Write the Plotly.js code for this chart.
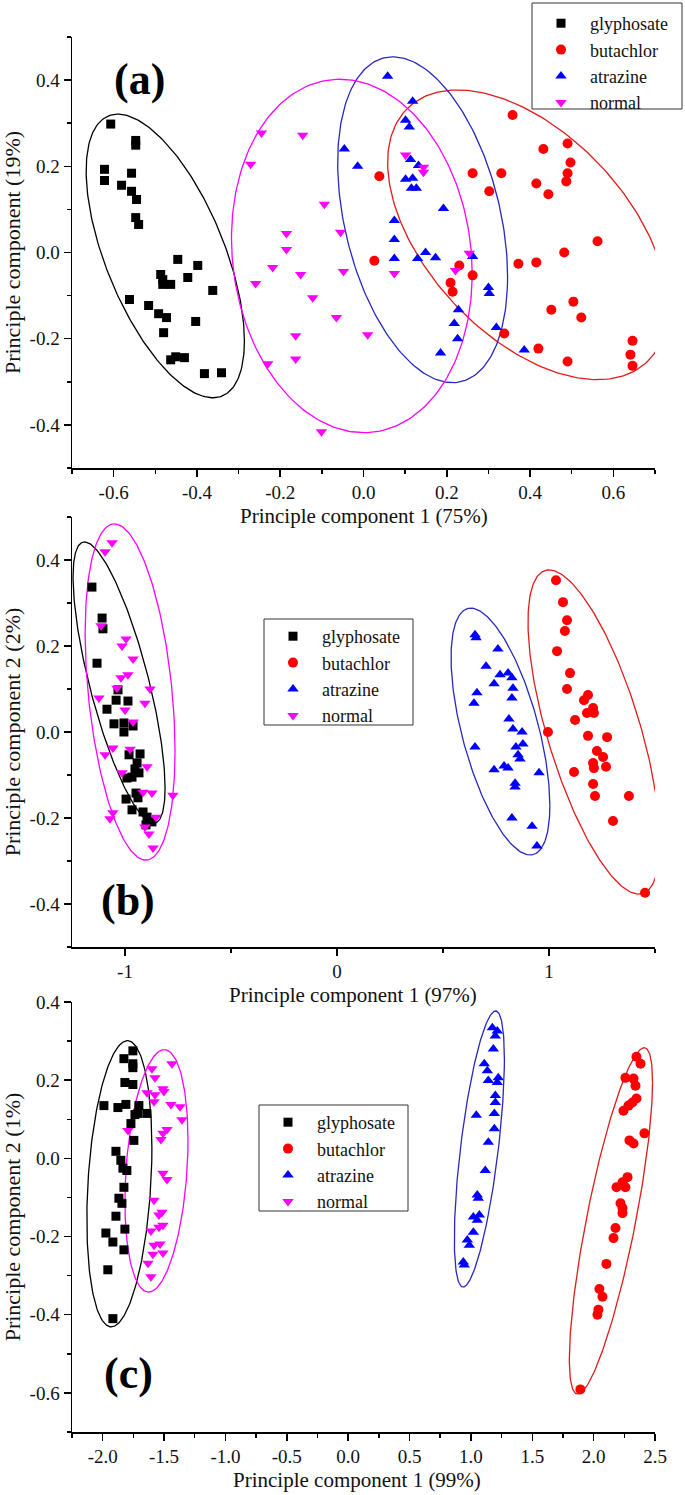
<!DOCTYPE html>
<html>
<head>
<meta charset="utf-8">
<script src="https://cdn.plot.ly/plotly-3.0.1.min.js"></script>
<style>html,body{margin:0;padding:0;background:#fff;}#plot{width:685px;height:1495px;}</style>
</head>
<body>
<div id="plot"></div>
<script>
// ---------- DATA ----------
const seriesNames = ['glyphosate', 'butachlor', 'atrazine', 'normal'];

// Panel (a)
const aGlyX = [-0.607,-0.547,-0.547,-0.622,-0.622,-0.557,-0.581,-0.557,-0.545,-0.547,-0.540,-0.446,-0.398,-0.487,-0.482,-0.482,-0.463,-0.422,-0.362,-0.562,-0.516,-0.492,-0.473,-0.403,-0.480,-0.463,-0.451,-0.430,-0.382,-0.341];
const aGlyY = [0.298,0.260,0.249,0.193,0.167,0.184,0.156,0.142,0.123,0.081,0.065,-0.016,-0.030,-0.051,-0.063,-0.074,-0.074,-0.058,-0.088,-0.109,-0.123,-0.142,-0.151,-0.160,-0.186,-0.249,-0.242,-0.244,-0.281,-0.279];
const aButX = [0.358,0.432,0.490,0.497,0.490,0.487,0.415,0.444,0.262,0.331,0.038,0.302,0.562,0.482,0.026,0.372,0.415,0.230,0.262,0.209,0.214,0.504,0.451,0.523,0.338,0.420,0.490,0.646,0.641,0.646];
const aButY = [0.319,0.240,0.253,0.209,0.184,0.165,0.160,0.135,0.184,0.184,0.177,0.142,0.026,0.000,-0.019,-0.026,-0.023,-0.030,-0.053,-0.070,-0.091,-0.114,-0.133,-0.151,-0.188,-0.223,-0.253,-0.205,-0.237,-0.263];
const aAtrX = [0.058,0.118,0.101,0.110,-0.046,-0.014,0.113,0.132,0.101,0.118,0.115,0.127,0.192,0.074,0.074,0.149,0.173,0.074,0.130,0.262,0.300,0.302,0.228,0.218,0.226,0.319,0.185,0.386];
const aAtrY = [0.409,0.351,0.307,0.291,0.240,0.200,0.216,0.202,0.170,0.172,0.149,0.149,0.102,0.074,0.030,0.000,-0.012,-0.014,-0.014,-0.009,-0.081,-0.095,-0.133,-0.165,-0.200,-0.174,-0.233,-0.226];
const aNorX = [-0.245,-0.146,-0.271,-0.094,0.101,0.144,0.144,-0.185,-0.055,-0.185,-0.218,-0.151,-0.048,-0.259,-0.122,-0.065,-0.163,-0.163,-0.230,-0.101,0.074,0.010,0.254,0.221];
const aNorY = [0.277,0.272,0.205,0.112,0.226,0.198,0.186,0.044,0.047,0.007,-0.035,-0.051,-0.044,-0.072,-0.105,-0.151,-0.193,-0.247,-0.258,-0.416,-0.049,-0.191,-0.002,-0.042];

// Panel (b)
const bGlyX = [-1.156,-1.108,-1.104,-1.132,-1.033,-0.986,-1.042,-1.085,-1.052,-1.005,-0.962,-1.005,-0.981,-0.929,-0.943,-0.953,-0.934,-0.991,-0.967,-0.948,-0.995,-0.939,-0.967,-0.915,-0.896,-0.873,-0.901];
const bGlyY = [0.337,0.265,0.240,0.160,0.098,0.072,0.074,0.053,0.019,0.021,0.014,0.000,-0.053,-0.051,-0.072,-0.086,-0.095,-0.107,-0.105,-0.142,-0.156,-0.153,-0.181,-0.186,-0.198,-0.209,-0.216];
const bButX = [1.033,1.066,1.085,1.075,1.038,1.099,1.085,1.184,1.165,1.208,1.179,1.212,1.123,0.995,1.184,1.274,1.226,1.255,1.208,1.269,1.212,1.118,1.208,1.217,1.377,1.302,1.453];
const bButY = [0.353,0.302,0.260,0.235,0.188,0.137,0.100,0.086,0.074,0.056,0.044,0.044,0.028,0.000,-0.009,-0.012,-0.044,-0.058,-0.072,-0.081,-0.084,-0.093,-0.121,-0.149,-0.149,-0.207,-0.374];
const bAtrX = [0.651,0.656,0.759,0.703,0.769,0.807,0.825,0.741,0.830,0.660,0.646,0.825,0.811,0.830,0.873,0.844,0.877,0.651,0.854,0.863,0.741,0.788,0.807,0.953,0.840,0.840,0.825,0.920,0.943];
const bAtrY = [0.226,0.219,0.193,0.153,0.133,0.137,0.126,0.112,0.102,0.091,0.067,0.079,0.030,0.007,0.000,-0.035,-0.028,-0.035,-0.053,-0.063,-0.088,-0.079,-0.084,-0.095,-0.119,-0.128,-0.200,-0.219,-0.265];
const bNorX = [-1.061,-1.094,-1.113,-0.995,-1.014,-0.962,-0.986,-1.019,-1.038,-0.882,-1.123,-0.906,-1.000,-0.962,-1.057,-1.094,-0.976,-1.014,-0.896,-0.915,-0.873,-0.774,-1.057,-1.071,-0.854,-0.906,-0.887,-0.868];
const bNorY = [0.440,0.419,0.247,0.216,0.200,0.170,0.133,0.126,0.102,0.100,0.079,0.067,0.051,0.023,-0.037,-0.053,-0.040,-0.095,-0.081,-0.140,-0.142,-0.147,-0.188,-0.202,-0.198,-0.221,-0.237,-0.270];

// Panel (c)
const cGlyX = [-1.754,-1.827,-1.754,-1.754,-1.819,-1.754,-1.990,-1.876,-1.811,-1.705,-1.713,-1.640,-1.737,-1.770,-1.746,-1.892,-1.852,-1.835,-1.803,-1.827,-1.868,-1.843,-1.892,-1.819,-1.974,-1.917,-1.827,-1.958,-1.917];
const cGlyY = [0.275,0.255,0.242,0.232,0.194,0.189,0.135,0.130,0.138,0.135,0.115,0.115,0.112,0.089,0.046,0.018,-0.005,-0.025,-0.031,-0.074,-0.102,-0.115,-0.148,-0.181,-0.191,-0.214,-0.234,-0.285,-0.410];
const cButX = [2.349,2.382,2.259,2.325,2.341,2.349,2.316,2.284,2.243,2.414,2.292,2.325,2.276,2.235,2.186,2.259,2.219,2.235,2.235,2.178,2.162,2.104,2.047,2.072,2.039,2.031,1.892];
const cButY = [0.260,0.242,0.206,0.204,0.186,0.153,0.143,0.135,0.122,0.064,0.046,0.038,-0.048,-0.061,-0.074,-0.074,-0.115,-0.127,-0.140,-0.178,-0.204,-0.270,-0.334,-0.354,-0.387,-0.400,-0.591];
const cAtrX = [1.175,1.215,1.199,1.183,1.109,1.134,1.223,1.142,1.215,1.199,1.199,1.044,1.191,1.191,1.142,1.117,1.052,1.060,1.020,1.069,1.052,1.020,0.971,0.987,0.938,0.946];
const cAtrY = [0.334,0.326,0.313,0.280,0.242,0.224,0.206,0.199,0.194,0.161,0.143,0.110,0.115,0.076,0.041,-0.031,-0.094,-0.102,-0.150,-0.145,-0.158,-0.189,-0.209,-0.222,-0.265,-0.273];
const cNorX = [-1.574,-1.436,-1.599,-1.509,-1.639,-1.574,-1.501,-1.582,-1.444,-1.370,-1.354,-1.794,-1.476,-1.509,-1.525,-1.509,-1.476,-1.582,-1.517,-1.542,-1.509,-1.542,-1.607,-1.533,-1.582,-1.509,-1.591,-1.631,-1.607];
const cNorY = [0.206,0.242,0.229,0.178,0.168,0.163,0.171,0.145,0.138,0.132,0.099,0.071,0.074,0.064,0.048,-0.038,-0.054,-0.107,-0.138,-0.145,-0.171,-0.176,-0.186,-0.219,-0.222,-0.242,-0.245,-0.268,-0.303];

// Confidence ellipses: order glyphosate, butachlor, atrazine, normal
// centre (cx, cy), half extents (rx, ry), correlation rho
const ellA_cx = [-0.476, 0.394, 0.142, -0.028];
const ellA_cy = [-0.008, 0.041, 0.076, -0.008];
const ellA_rx = [0.190, 0.336, 0.204, 0.289];
const ellA_ry = [0.329, 0.336, 0.378, 0.410];
const ellA_rho = [-0.60, -0.50, -0.35, -0.10];

const ellB_cx = [-1.028, 1.212, 0.771, -0.976];
const ellB_cy = [0.115, 0.000, 0.001, 0.093];
const ellB_rx = [0.217, 0.311, 0.233, 0.212];
const ellB_ry = [0.327, 0.377, 0.287, 0.391];
const ellB_rho = [-0.75, -0.68, -0.60, -0.35];

const ellC_cx = [-1.864, 2.141, 1.069, -1.562];
const ellC_cy = [-0.065, -0.160, 0.024, -0.032];
const ellC_rx = [0.265, 0.339, 0.204, 0.257];
const ellC_ry = [0.366, 0.443, 0.353, 0.310];
const ellC_rho = [0.25, 0.80, 0.65, 0.25];

// Tick labels
const aXTickVals = [-0.6,-0.4,-0.2,0,0.2,0.4,0.6];
const aXTickText = ['-0.6','-0.4','-0.2','0.0','0.2','0.4','0.6'];
const abYTickVals = [-0.4,-0.2,0,0.2,0.4];
const abYTickText = ['-0.4','-0.2','0.0','0.2','0.4'];
const bXTickVals = [-1,0,1];
const bXTickText = ['-1','0','1'];
const cXTickVals = [-2,-1.5,-1,-0.5,0,0.5,1,1.5,2,2.5];
const cXTickText = ['-2.0','-1.5','-1.0','-0.5','0.0','0.5','1.0','1.5','2.0','2.5'];
const cYTickVals = [-0.6,-0.4,-0.2,0,0.2,0.4];
const cYTickText = ['-0.6','-0.4','-0.2','0.0','0.2','0.4'];

const xTitles = ['Principle component 1 (75%)','Principle component 1 (97%)','Principle component 1 (99%)'];
const yTitles = ['Principle component (19%)','Principle component 2 (2%)','Principle component 2 (1%)'];
const panelLabels = ['(a)','(b)','(c)'];

// ---------- STYLE ----------
const markerColors = ['#000000','#ff0000','#0000ff','#ff00ff'];
const lineColors = ['#000000','#e01a1a','#2828c0','#ff00ff'];
const symbols = ['square','circle','triangle-up','triangle-down'];
const sizes = [9, 10, 10, 10];
const FONT = 'Liberation Serif';

function ellipse(cx, cy, rx, ry, rho) {
  const xs = [], ys = [];
  const s = Math.sqrt(1 - rho * rho);
  for (let i = 0; i <= 240; i++) {
    const t = 2 * Math.PI * i / 240;
    xs.push(cx + rx * Math.cos(t));
    ys.push(cy + ry * (rho * Math.cos(t) + s * Math.sin(t)));
  }
  return {xs, ys};
}

const panels = [
  {xa:'x', ya:'y', leg:'legend', pts:[[aGlyX,aGlyY],[aButX,aButY],[aAtrX,aAtrY],[aNorX,aNorY]],
   ell:[ellA_cx,ellA_cy,ellA_rx,ellA_ry,ellA_rho]},
  {xa:'x2', ya:'y2', leg:'legend2', pts:[[bGlyX,bGlyY],[bButX,bButY],[bAtrX,bAtrY],[bNorX,bNorY]],
   ell:[ellB_cx,ellB_cy,ellB_rx,ellB_ry,ellB_rho]},
  {xa:'x3', ya:'y3', leg:'legend3', pts:[[cGlyX,cGlyY],[cButX,cButY],[cAtrX,cAtrY],[cNorX,cNorY]],
   ell:[ellC_cx,ellC_cy,ellC_rx,ellC_ry,ellC_rho]}
];

const traces = [];
panels.forEach(p => {
  for (let k = 0; k < 4; k++) {
    const e = ellipse(p.ell[0][k], p.ell[1][k], p.ell[2][k], p.ell[3][k], p.ell[4][k]);
    traces.push({type:'scatter', mode:'lines', x:e.xs, y:e.ys, xaxis:p.xa, yaxis:p.ya,
      line:{color:lineColors[k], width:1.3}, showlegend:false, hoverinfo:'skip'});
  }
  for (let k = 0; k < 4; k++) {
    traces.push({type:'scatter', mode:'markers', name:seriesNames[k], x:p.pts[k][0], y:p.pts[k][1],
      xaxis:p.xa, yaxis:p.ya, legend:p.leg,
      marker:{symbol:symbols[k], size:sizes[k], color:markerColors[k], line:{width:0}}});
  }
});

function axis(extra) {
  return Object.assign({
    showline:true, linecolor:'#000', linewidth:1.5, mirror:false,
    showgrid:false, zeroline:false,
    ticks:'outside', ticklen:7, tickwidth:1.5, tickcolor:'#000',
    tickmode:'array',
    tickfont:{family:FONT, size:19, color:'#111'},
    automargin:false
  }, extra);
}
function ttl(text, standoff) {
  return {text:text, font:{family:FONT, size:22, color:'#111'}, standoff:standoff};
}
function minor(t0, dt) {
  return {tickmode:'linear', tick0:t0, dtick:dt, ticks:'outside', ticklen:4, tickwidth:1.5, tickcolor:'#000', showgrid:false};
}

const H = 1495, PW = 583, ML = 72;
const yd = (top, bot) => [(H - bot) / H, (H - top) / H];
const px = v => (v - ML) / PW;
const py = v => (H - v) / H;

const legendBase = {
  bgcolor:'rgba(0,0,0,0)', borderwidth:0,
  font:{family:FONT, size:18, color:'#111'},
  itemwidth:48, tracegroupgap:0, yanchor:'top', xanchor:'left', xref:'paper', yref:'paper'
};

// legend frames [left, top, right, bottom] in page pixels
const legendFrames = [[532,3,682,109],[264,619,413,725],[259,1105,408,1211]];

// x-axis title centres in page pixels
const xTitlePos = [[364,516],[353,995],[357,1480]];

const layout = {
  width:685, height:1495,
  font:{family:FONT, size:18, color:'#111'},
  margin:{l:72, r:30, t:0, b:0},
  paper_bgcolor:'#fff', plot_bgcolor:'#fff',
  showlegend:true,
  xaxis: axis({domain:[0,1], range:[-0.7,0.7], anchor:'y', tickvals:aXTickVals, ticktext:aXTickText,
    minor:minor(-0.7,0.1)}),
  yaxis: axis({domain:yd(37,468), range:[-0.5,0.5], anchor:'x', tickvals:abYTickVals, ticktext:abYTickText,
    minor:minor(-0.5,0.1), title:ttl(yTitles[0], 6)}),
  xaxis2: axis({domain:[0,1], range:[-1.25,1.5], anchor:'y2', tickvals:bXTickVals, ticktext:bXTickText,
    minor:minor(-1.5,0.5)}),
  yaxis2: axis({domain:yd(517,947), range:[-0.5,0.5], anchor:'x2', tickvals:abYTickVals, ticktext:abYTickText,
    minor:minor(-0.5,0.1), title:ttl(yTitles[1], 6)}),
  xaxis3: axis({domain:[0,1], range:[-2.25,2.5], anchor:'y3', tickvals:cXTickVals, ticktext:cXTickText,
    minor:minor(-2.25,0.25)}),
  yaxis3: axis({domain:yd(1002,1432), range:[-0.7,0.4], anchor:'x3', tickvals:cYTickVals, ticktext:cYTickText,
    minor:minor(-0.7,0.1), title:ttl(yTitles[2], 6)}),
  legend: Object.assign({}, legendBase, {x:px(532), y:py(5)}),
  legend2: Object.assign({}, legendBase, {x:px(264), y:py(618)}),
  legend3: Object.assign({}, legendBase, {x:px(259), y:py(1104)}),
  shapes: legendFrames.map(f => ({type:'rect', xref:'paper', yref:'paper',
    x0:px(f[0]), x1:px(f[2]), y0:py(f[3]), y1:py(f[1]),
    line:{color:'#333', width:1}, fillcolor:'#fff', layer:'above'})),
  annotations: [
    {text:panelLabels[0], x:px(139), y:py(80), font:{family:FONT, size:44, color:'#000', weight:'bold'}},
    {text:panelLabels[1], x:px(128), y:py(900), font:{family:FONT, size:44, color:'#000', weight:'bold'}},
    {text:panelLabels[2], x:px(128), y:py(1373), font:{family:FONT, size:44, color:'#000', weight:'bold'}}
  ].concat(xTitles.map((t, i) => ({text:t, x:px(xTitlePos[i][0]), y:py(xTitlePos[i][1]),
    font:{family:FONT, size:21, color:'#111'}})))
   .map(a => Object.assign(a, {xref:'paper', yref:'paper', showarrow:false, xanchor:'center', yanchor:'middle'}))
};

Plotly.newPlot('plot', traces, layout, {staticPlot:true, displayModeBar:false});
</script>
</body>
</html>
